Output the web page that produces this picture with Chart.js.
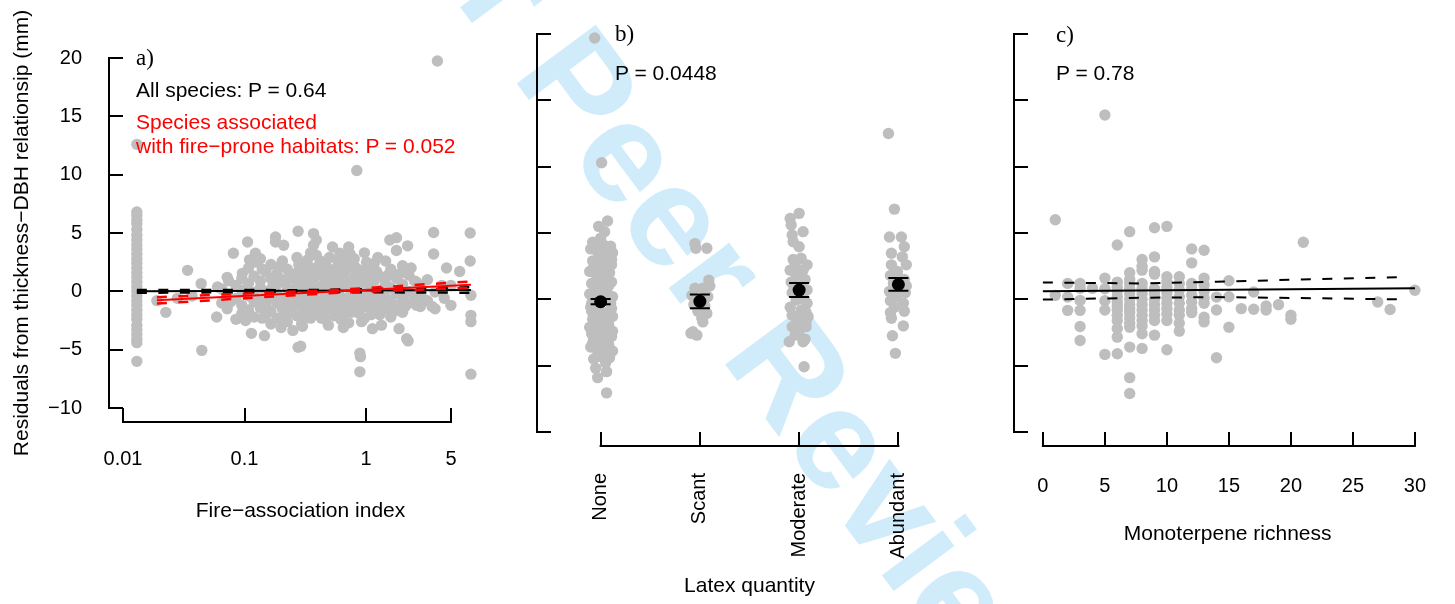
<!DOCTYPE html>
<html>
<head>
<meta charset="utf-8">
<script src="https://cdn.jsdelivr.net/npm/chart.js@4.4.0/dist/chart.umd.min.js"></script>
<style>
  html, body { margin: 0; padding: 0; background: #fff; }
  #page { position: relative; width: 1455px; height: 604px; overflow: hidden; background: #fff; }
  canvas { position: absolute; top: 0; }
  .wm { position: absolute; left: 350px; top: -262px; font: bold 143px "Liberation Sans", Arial, sans-serif;
        line-height: 1; color: rgb(208, 236, 250); white-space: nowrap;
        transform-origin: 0 121px; transform: rotate(53.4deg); }
  .txt { position: absolute; font-family: "Liberation Sans", Arial, sans-serif; font-size: 21px;
         line-height: 1; white-space: nowrap; color: #000; }
  .red { color: #ff0000; }
  .pan { position: absolute; font-family: "Liberation Serif", "Times New Roman", serif; font-size: 23px;
         line-height: 1; color: #000; }
</style>
</head>
<body>
<div id="page">
  <div class="wm">For Peer Review</div>
  <canvas id="panelA" width="500" height="604" style="left:0px"></canvas>
  <canvas id="panelB" width="480" height="604" style="left:500px"></canvas>
  <canvas id="panelC" width="475" height="604" style="left:980px"></canvas>

  <div class="pan" style="left:136px; top:45.7px">a)</div>
  <div class="txt" style="left:136px; top:78.6px">All species: P = 0.64</div>
  <div class="txt red" style="left:136px; top:110.7px">Species associated</div>
  <div class="txt red" style="left:136px; top:135.2px">with fire−prone habitats: P = 0.052</div>

  <div class="pan" style="left:615px; top:22.2px">b)</div>
  <div class="txt" style="left:615px; top:62.2px">P = 0.0448</div>

  <div class="pan" style="left:1056px; top:23.2px">c)</div>
  <div class="txt" style="left:1056px; top:62.2px">P = 0.78</div>
</div>
<script>
// shared y axis: residuals from the thickness-DBH relationship
const residTicks = [-10, -5, 0, 5, 10, 15, 20];
const residTickLabels = ['−10', '−5', '0', '5', '10', '15', '20'];

// panel a: fire-association index (log axis)
const fireTicks = [0.01, 0.1, 1, 5];
const fireTickLabels = ['0.01', '0.1', '1', '5'];
const firePoints = [
  [0.013, 12.6], [0.013, 6.8], [0.013, 6.5], [0.013, 6.1], [0.013, 5.8], [0.013, 5.3], [0.013, 4.8],
  [0.013, 4.4], [0.013, 4.0], [0.013, 3.6], [0.013, 3.2], [0.013, 2.8], [0.013, 2.4], [0.013, 2.0],
  [0.013, 1.6], [0.013, 1.2], [0.013, 0.8], [0.013, 0.4], [0.013, 0.0], [0.013, -0.4], [0.013, -0.8],
  [0.013, -1.2], [0.013, -1.6], [0.013, -2.0], [0.013, -2.4], [0.013, -2.9], [0.013, -3.3], [0.013, -3.7],
  [0.013, -4.1], [0.013, -4.4], [0.013, -6.0],
  [0.019, -0.8], [0.0225, -1.8], [0.034, 1.8], [0.044, 0.66], [0.0445, -5.06], [0.028, -0.6], [0.037, -0.4],
  [0.06, 0.37], [0.059, -2.2], [0.081, 3.26], [0.096, 1.54], [0.106, 4.23], [0.123, 3.26], [0.123, 2.5],
  [0.102, -2.5], [0.114, -3.6], [0.146, -3.8], [0.18, 4.66], [0.18, 4.23], [0.21, 3.95], [0.276, 5.15],
  [0.2, -3.1], [0.25, -3.35], [0.276, -4.8], [0.37, 4.95], [0.39, 4.4], [0.37, 3.95], [0.39, 3.1],
  [0.53, 3.8], [0.61, 3.26], [0.72, 3.8], [0.74, 3.2], [0.78, 2.4], [1.01, 2.5], [1.57, 4.4], [1.78, 4.6],
  [2.2, 3.9], [1.78, 3.5], [3.6, 5.04], [3.87, 19.74], [0.84, 10.36], [3.6, 3.2], [4.6, 2.0], [5.9, 1.7],
  [7.2, 5.0], [7.2, 2.6], [7.3, -0.34], [7.3, -2.06], [7.3, -2.6], [7.3, -7.1], [3.7, -0.06], [3.7, -1.5],
  [2.7, -0.2], [0.89, -5.3], [0.9, -5.6], [0.89, -6.9], [2.16, -4.06], [2.22, -4.25], [0.29, -4.7],
  [0.49, -2.9], [0.65, -2.5], [0.65, -3.1], [0.92, -2.6], [1.13, -3.2], [1.34, -2.9], [1.87, -3.2],
  [0.44, -1.9], [3.0, -0.7], [3.5, -1.3], [2.6, 0.8], [4.2, 0.5],
  [0.065, 0.2], [0.065, -1.0], [0.072, 1.2], [0.072, -0.3], [0.072, -1.5], [0.085, 0.5], [0.085, -0.6],
  [0.085, -2.4], [0.095, 1.1], [0.095, 0.1], [0.095, -1.2], [0.095, -1.9], [0.108, 2.0], [0.108, 0.7],
  [0.108, -0.4], [0.108, -1.6], [0.12, 1.3], [0.12, -0.1], [0.12, -0.9], [0.12, -2.2], [0.135, 2.8],
  [0.135, 0.9], [0.135, 0.3], [0.135, -0.8], [0.135, -1.4], [0.15, 1.7], [0.15, 0.0], [0.15, -1.1],
  [0.15, -2.0], [0.165, 2.3], [0.165, 1.1], [0.165, -0.5], [0.165, -1.7], [0.165, -2.8], [0.185, 1.5],
  [0.185, 0.6], [0.185, -0.2], [0.185, -1.0], [0.185, -2.3], [0.205, 2.6], [0.205, 1.0], [0.205, -0.7],
  [0.205, -1.5], [0.225, 1.9], [0.225, 0.3], [0.225, -0.4], [0.225, -1.2], [0.225, -2.6], [0.245, 1.2],
  [0.245, -0.1], [0.245, -1.8], [0.27, 2.9], [0.27, 1.6], [0.27, 0.5], [0.27, -0.6], [0.27, -2.1],
  [0.295, 2.2], [0.295, 0.9], [0.295, -0.3], [0.295, -1.3], [0.295, -2.8], [0.32, 1.4], [0.32, 0.2],
  [0.32, -0.9], [0.32, -1.7], [0.35, 3.3], [0.35, 2.0], [0.35, 0.8], [0.35, -0.5], [0.35, -2.3],
  [0.38, 1.2], [0.38, 0.0], [0.38, -1.2], [0.38, -2.0], [0.42, 2.6], [0.42, 1.6], [0.42, 0.4], [0.42, -0.8],
  [0.42, -1.6], [0.46, 1.0], [0.46, -0.2], [0.46, -1.4], [0.46, -2.4], [0.5, 2.9], [0.5, 1.8], [0.5, 0.6],
  [0.5, -0.6], [0.55, 1.3], [0.55, 0.1], [0.55, -1.1], [0.55, -2.1], [0.6, 2.3], [0.6, 0.9], [0.6, -0.3],
  [0.6, -1.6], [0.66, 3.0], [0.66, 1.5], [0.66, 0.4], [0.66, -0.9], [0.66, -2.0], [0.72, 2.0], [0.72, 0.7],
  [0.72, -0.5], [0.72, -1.4], [0.72, -2.7], [0.8, 2.8], [0.8, 1.2], [0.8, 0.0], [0.8, -1.1], [0.88, 1.8],
  [0.88, 0.6], [0.88, -0.7], [0.88, -1.9], [0.97, 3.3], [0.97, 1.1], [0.97, -0.2], [0.97, -1.3],
  [0.97, -2.3], [1.06, 1.6], [1.06, 0.4], [1.06, -0.9], [1.17, 2.4], [1.17, 0.9], [1.17, -0.4],
  [1.17, -1.6], [1.3, 1.3], [1.3, 0.1], [1.3, -1.0], [1.3, -2.0], [1.45, 2.6], [1.45, 0.7], [1.45, -0.5],
  [1.45, -1.4], [1.6, 1.9], [1.6, 0.3], [1.6, -0.9], [1.6, -2.2], [1.78, 1.1], [1.78, -0.2], [1.78, -1.2],
  [2.0, 2.2], [2.0, 0.6], [2.0, -0.6], [2.0, -1.8], [2.25, 1.4], [2.25, 0.0], [2.25, -1.0], [2.5, 0.9],
  [2.5, -0.4], [2.8, 0.4], [2.8, -1.3], [3.2, 1.0], [3.2, -0.8], [4.4, -0.6], [5.0, 0.5], [5.0, -1.2],
  [0.14, 1.9], [0.14, -2.3], [0.17, 0.4], [0.19, 2.1], [0.21, -2.2], [0.23, 1.1], [0.26, -1.1], [0.28, 2.3],
  [0.31, -2.2], [0.33, 2.7], [0.36, -1.6], [0.4, 2.1], [0.43, -2.3], [0.47, 2.2], [0.52, -1.6], [0.57, 2.0],
  [0.62, -2.4], [0.69, 2.4], [0.76, -1.8], [0.83, 2.0], [0.9, -1.3], [1.0, 1.9], [1.1, -2.0], [1.22, 1.7],
  [1.38, -1.6], [1.52, 1.4], [1.7, -1.7], [1.9, 1.5], [2.1, -1.3], [2.35, 2.0], [2.6, -1.2], [1.25, 2.9],
  [0.58, 2.7], [0.3, -3.0], [0.11, 2.7], [0.077, -0.9], [0.074, 0.9]
];
// fitted lines and confidence limits, all species (black) and fire-prone species (red)
const allFitX = [0.013, 0.3, 7.3];
const allFitY = [0.0, 0.06, 0.12];
const allUpperY = [0.12, 0.1, 0.35];
const allLowerY = [-0.12, -0.05, -0.12];
const fireFitX = [0.019, 0.6, 7.3];
const fireFitY = [-0.77, 0.01, 0.57];
const fireUpperY = [-0.5, 0.13, 0.85];
const fireLowerY = [-1.05, -0.11, 0.3];

// panel b: latex quantity
const latexLevels = ['None', 'Scant', 'Moderate', 'Abundant'];
const latexMeans = [-0.18, -0.15, 0.7, 1.12];
const latexSE = [0.2, 0.52, 0.53, 0.48];
const noneRes = [
  [0.94, 19.7], [1.01, 10.3], [1.07, 5.9], [0.98, 5.5], [1.04, 5.1], [0.92, 4.3], [1.0, 4.6], [1.1, 4.0],
  [1.03, 4.1], [0.9, 3.8], [1.08, 3.7], [0.97, 3.6], [1.05, 3.4], [0.99, 3.2], [1.11, 3.0], [0.92, 2.9],
  [1.0, 2.6], [1.07, 2.3], [1.02, 2.2], [0.89, 2.1], [1.09, 2.0], [0.96, 1.8], [1.04, 1.6], [1.11, 1.3],
  [1.02, 1.3], [0.91, 1.2], [0.99, 0.9], [0.94, 0.7], [1.06, 0.6], [0.89, 0.4], [1.12, 0.2], [0.95, 0.1],
  [1.03, -0.1], [0.91, -0.3], [1.1, -0.3], [0.9, -0.6], [0.98, -0.8], [1.06, -1.0], [0.94, -1.2],
  [1.12, -1.3], [0.99, -1.4], [0.92, -1.5], [1.0, -1.7], [1.08, -1.9], [0.89, -2.1], [1.03, -2.2],
  [1.09, -2.2], [0.96, -2.4], [1.04, -2.6], [1.11, -2.8], [0.93, -3.0], [1.01, -3.2], [1.08, -3.4],
  [0.96, -3.5], [0.9, -3.6], [0.97, -3.9], [1.12, -3.9], [1.06, -4.1], [0.93, -4.5], [1.05, -4.8],
  [0.95, -5.2], [1.06, -5.45], [0.97, -5.9], [1.06, -7.05],
  [0.95, 3.9], [1.06, 3.1], [0.93, 2.4], [1.11, 2.6], [0.98, 1.5], [1.08, 1.0], [0.92, 0.1], [1.04, 0.3],
  [0.97, -0.2], [1.11, -0.7], [0.91, -0.9], [1.04, -1.5], [0.95, -1.9], [1.12, -2.4], [0.91, -2.6],
  [1.0, -2.9], [1.07, -3.0], [0.92, -3.3], [1.03, -3.7], [1.09, -4.4], [0.99, -4.3], [1.12, 3.5],
  [0.96, 4.1], [1.02, 0.6], [0.99, -1.1]
];
const scantRes = [
  [1.95, 4.2], [1.96, 3.85], [2.07, 3.85], [2.09, 1.45], [2.1, 1.0], [2.03, 0.83], [1.95, 0.83],
  [1.92, 0.3], [2.0, 0.0], [2.08, 0.2], [1.94, -0.4], [2.05, -0.5], [1.98, -0.9], [2.07, -1.06],
  [2.02, -1.43], [2.03, -1.7], [1.93, -2.44], [1.97, -2.7], [1.91, -2.56]
];
const moderateRes = [
  [3.0, 6.48], [2.91, 6.1], [2.92, 5.6], [3.04, 5.1], [2.93, 4.85], [2.94, 4.34], [3.0, 3.96], [2.94, 3.0],
  [3.02, 3.1], [3.08, 2.6], [2.91, 2.2], [3.04, 2.2], [2.97, 1.8], [3.06, 1.5], [2.92, 1.3], [3.0, 1.0],
  [3.08, 0.7], [2.93, 0.5], [3.03, 0.3], [2.97, -0.05], [3.08, -0.3], [2.91, -0.6], [3.02, -0.8],
  [2.93, -1.2], [3.07, -1.0], [2.98, -1.5], [3.07, -1.7], [2.93, -2.06], [3.07, -2.06], [3.0, -2.4],
  [2.96, -2.7], [3.09, -1.3], [2.9, -3.2], [3.04, -3.2], [3.06, -3.0], [3.05, -5.08],
  [2.96, 2.6], [3.05, 0.0], [2.95, 0.9], [3.01, -1.9]
];
const abundantRes = [
  [3.9, 12.5], [3.96, 6.8], [3.91, 4.7], [4.03, 4.7], [4.06, 3.96], [3.93, 3.47], [4.04, 3.2], [4.08, 2.6],
  [3.93, 2.6], [3.99, 2.1], [3.92, 1.8], [4.06, 1.5], [3.95, 1.2], [4.08, 1.0], [4.02, 0.9], [3.91, 0.6],
  [4.07, 0.5], [3.98, 0.2], [3.92, -0.1], [4.05, -0.3], [3.96, -0.6], [4.06, -0.9], [3.92, -1.0],
  [3.93, -1.43], [4.05, -2.0], [3.94, -2.74], [3.97, -4.07]
];

// panel c: monoterpene richness
const monoTicks = [0, 5, 10, 15, 20, 25, 30];
const monoPoints = [
  [1, 6.0], [1, 0.3], [2, 1.2], [2, 0.18], [2, -0.83],
  [3, 1.2], [3, 0.83], [3, -0.08], [3, -0.83], [3, -2.05], [3, -3.1], [4, 0.83],
  [5, 13.9], [5, 1.6], [5, 0.8], [5, -0.1], [5, -0.8], [5, -4.15],
  [6, 4.1], [6, 1.3], [6, 0.9], [6, 0.6], [6, 0.2], [6, -0.2], [6, -0.5], [6, -0.8], [6, -1.2], [6, -1.6],
  [6, -2.2], [6, -2.85], [6, -4.1],
  [7, 5.1], [7, 2.0], [7, 1.5], [7, 1.2], [7, 0.8], [7, 0.4], [7, 0.0], [7, -0.4], [7, -0.7], [7, -1.0],
  [7, -1.4], [7, -1.8], [7, -2.1], [7, -3.6], [7, -5.9], [7, -7.1],
  [8, 3.0], [8, 2.5], [8, 2.2], [8, 1.2], [8, 0.8], [8, 0.4], [8, 0.0], [8, -0.4], [8, -0.8], [8, -1.2],
  [8, -1.6], [8, -2.0], [8, -2.6], [8, -3.7],
  [9, 5.4], [9, 3.2], [9, 2.1], [9, 1.9], [9, 0.8], [9, 0.4], [9, 0.0], [9, -0.4], [9, -0.8], [9, -1.2],
  [9, -1.6], [9, -2.7],
  [10, 5.5], [10, 1.7], [10, 1.3], [10, 0.9], [10, 0.5], [10, 0.1], [10, -0.3], [10, -0.7], [10, -1.1],
  [10, -1.6], [10, -3.8],
  [11, 1.7], [11, 1.2], [11, 0.7], [11, 0.2], [11, -0.3], [11, -0.8], [11, -1.2], [11, -1.8], [11, -2.4],
  [12, 3.8], [12, 2.75], [12, 1.2], [12, 0.8], [12, 0.3], [12, -0.2], [12, -0.7], [12, -1.0],
  [13, 3.7], [13, 1.6], [13, 1.1], [13, 0.6], [13, 0.1], [13, -0.3], [13, -1.35], [13, -1.7],
  [14, 0.17], [14, -0.8], [14, -4.4], [15, 1.4], [15, 0.2], [15, -2.1], [16, -0.7], [17, 0.55], [17, -0.75],
  [18, -0.5], [18, -0.8], [19, -0.4], [20, -1.2], [20, -1.5], [21, 4.3], [27, -0.2], [28, -0.77], [30, 0.68]
];
const monoFitX = [0, 30];
const monoFitY = [0.6, 0.83];
const monoBandX = [0, 8, 14, 29];
const monoUpperY = [1.27, 1.2, 1.33, 1.68];
const monoLowerY = [-0.02, 0.12, 0.17, 0.0];

const TICK = 14;
const BLACK = '#000000';
const GREY = '#BEBEBE';
const RED = '#FF0000';
const FONT = '"Liberation Sans", Arial, Helvetica, sans-serif';
const DOT = 5.7;

const pairs = arr => arr.map(([x, y]) => ({ x, y }));
const zip = (xs, ys) => xs.map((x, i) => ({ x, y: ys[i] }));

function pointSet(data, color, radius) {
  return { data, backgroundColor: color, borderWidth: 0, pointRadius: radius, pointHoverRadius: radius, order: 10 };
}
function lineSet(data, color, width, dash) {
  return { data, showLine: true, borderColor: color, borderWidth: width, borderDash: dash || [],
           pointRadius: 0, fill: false, tension: 0, order: 1 };
}

// R style axes: the axis line sits at the outer end of the tick marks
const rAxes = {
  id: 'rAxes',
  afterDraw(chart) {
    const { ctx, chartArea, scales: { x, y } } = chart;
    ctx.save();
    ctx.strokeStyle = BLACK;
    ctx.lineWidth = 2;
    ctx.lineCap = 'square';
    ctx.beginPath();
    const ax = chartArea.left - TICK;
    ctx.moveTo(ax, y.getPixelForValue(y.ticks[0].value));
    ctx.lineTo(ax, y.getPixelForValue(y.ticks[y.ticks.length - 1].value));
    const ay = chartArea.bottom + TICK;
    ctx.moveTo(x.getPixelForValue(x.ticks[0].value), ay);
    ctx.lineTo(x.getPixelForValue(x.ticks[x.ticks.length - 1].value), ay);
    ctx.stroke();
    ctx.restore();
  }
};

const errorBars = {
  id: 'errorBars',
  afterDatasetsDraw(chart) {
    const { ctx, scales: { x, y } } = chart;
    ctx.save();
    ctx.strokeStyle = BLACK;
    ctx.lineWidth = 2;
    latexMeans.forEach((m, i) => {
      const px = x.getPixelForValue(i + 1);
      const hi = y.getPixelForValue(m + latexSE[i]);
      const lo = y.getPixelForValue(m - latexSE[i]);
      ctx.beginPath();
      ctx.moveTo(px, hi); ctx.lineTo(px, lo);
      ctx.moveTo(px - 10, hi); ctx.lineTo(px + 10, hi);
      ctx.moveTo(px - 10, lo); ctx.lineTo(px + 10, lo);
      ctx.stroke();
    });
    ctx.restore();
  }
};

function yScale(width, showLabels, title) {
  return {
    min: -10, max: 20,
    afterBuildTicks: s => { s.ticks = residTicks.map(v => ({ value: v })); },
    afterFit: s => { s.width = width; },
    border: { display: false },
    grid: { drawOnChartArea: false, drawTicks: true, tickLength: TICK, color: BLACK, lineWidth: 2 },
    ticks: { display: showLabels, padding: 27, color: BLACK, font: { family: FONT, size: 20 },
             callback: (v, i) => residTickLabels[i] },
    title: { display: !!title, text: title || '', color: BLACK, font: { family: FONT, size: 21 },
             padding: { top: 9.4, bottom: 0 } }
  };
}

function xScale(opts) {
  return Object.assign({
    afterBuildTicks: s => { s.ticks = opts.tickValues.map(v => ({ value: v })); },
    afterFit: s => { s.height = opts.height; },
    border: { display: false },
    grid: { drawOnChartArea: false, drawTicks: true, tickLength: TICK, color: BLACK, lineWidth: 2 },
    ticks: { padding: opts.pad, color: BLACK, autoSkip: false, maxRotation: opts.rot, minRotation: opts.rot,
             font: { family: FONT, size: 20 }, callback: (v, i) => opts.labels[i] },
    title: { display: true, text: opts.title, color: BLACK, font: { family: FONT, size: 21 },
             padding: { top: 0, bottom: opts.titlePad } }
  }, opts.extra);
}

function baseOptions(padding, scales) {
  return {
    responsive: false,
    animation: false,
    devicePixelRatio: 1,
    layout: { autoPadding: false, padding },
    datasets: { scatter: { clip: false } },
    plugins: { legend: { display: false }, tooltip: { enabled: false } },
    scales
  };
}

// panel a
new Chart(document.getElementById('panelA'), {
  type: 'scatter',
  data: {
    datasets: [
      lineSet(zip(fireFitX, fireFitY), RED, 2),
      lineSet(zip(fireFitX, fireUpperY), RED, 2.5, [10, 11.5]),
      lineSet(zip(fireFitX, fireLowerY), RED, 2.5, [10, 11.5]),
      lineSet(zip(allFitX, allFitY), BLACK, 2),
      lineSet(zip(allFitX, allUpperY), BLACK, 2.5, [10, 11.5]),
      lineSet(zip(allFitX, allLowerY), BLACK, 2.5, [10, 11.5]),
      pointSet(pairs(firePoints), GREY, DOT)
    ]
  },
  options: baseOptions({ left: 0, top: 58, right: 22, bottom: 0 }, {
    x: xScale({ tickValues: fireTicks, labels: fireTickLabels, height: 196, pad: 25, rot: 0,
                title: 'Fire−association index', titlePad: 80.4,
                extra: { type: 'logarithmic', min: 0.01, max: 8.35 } }),
    y: yScale(123, true, 'Residuals from thickness−DBH relationsip (mm)')
  }),
  plugins: [rAxes]
});

// panel b
new Chart(document.getElementById('panelB'), {
  type: 'scatter',
  data: {
    datasets: [
      pointSet(zip([1, 2, 3, 4], latexMeans), BLACK, 6.5),
      pointSet(pairs(noneRes), GREY, DOT),
      pointSet(pairs(scantRes), GREY, DOT),
      pointSet(pairs(moderateRes), GREY, DOT),
      pointSet(pairs(abundantRes), GREY, DOT)
    ].map((d, i) => Object.assign(d, { order: i === 0 ? 1 : 10 }))
  },
  options: baseOptions({ left: 0, top: 34, right: 32, bottom: 0 }, {
    x: xScale({ tickValues: [1, 2, 3, 4], labels: latexLevels, height: 172, pad: 27, rot: 90,
                title: 'Latex quantity', titlePad: 5.4, extra: { type: 'linear', min: 0.5, max: 4.5 } }),
    y: yScale(51, false)
  }),
  plugins: [rAxes, errorBars]
});

// panel c
new Chart(document.getElementById('panelC'), {
  type: 'scatter',
  data: {
    datasets: [
      lineSet(zip(monoFitX, monoFitY), BLACK, 2),
      lineSet(zip(monoBandX, monoUpperY), BLACK, 2, [10, 11.5]),
      lineSet(zip(monoBandX, monoLowerY), BLACK, 2, [10, 11.5]),
      pointSet(pairs(monoPoints), GREY, DOT)
    ]
  },
  options: baseOptions({ left: 0, top: 34, right: 15, bottom: 0 }, {
    x: xScale({ tickValues: monoTicks, labels: monoTicks.map(String), height: 172, pad: 28.5, rot: 0,
                title: 'Monoterpene richness', titlePad: 57, extra: { type: 'linear', min: -1.2, max: 31 } }),
    y: yScale(48, false)
  }),
  plugins: [rAxes]
});
</script>
</body>
</html>
